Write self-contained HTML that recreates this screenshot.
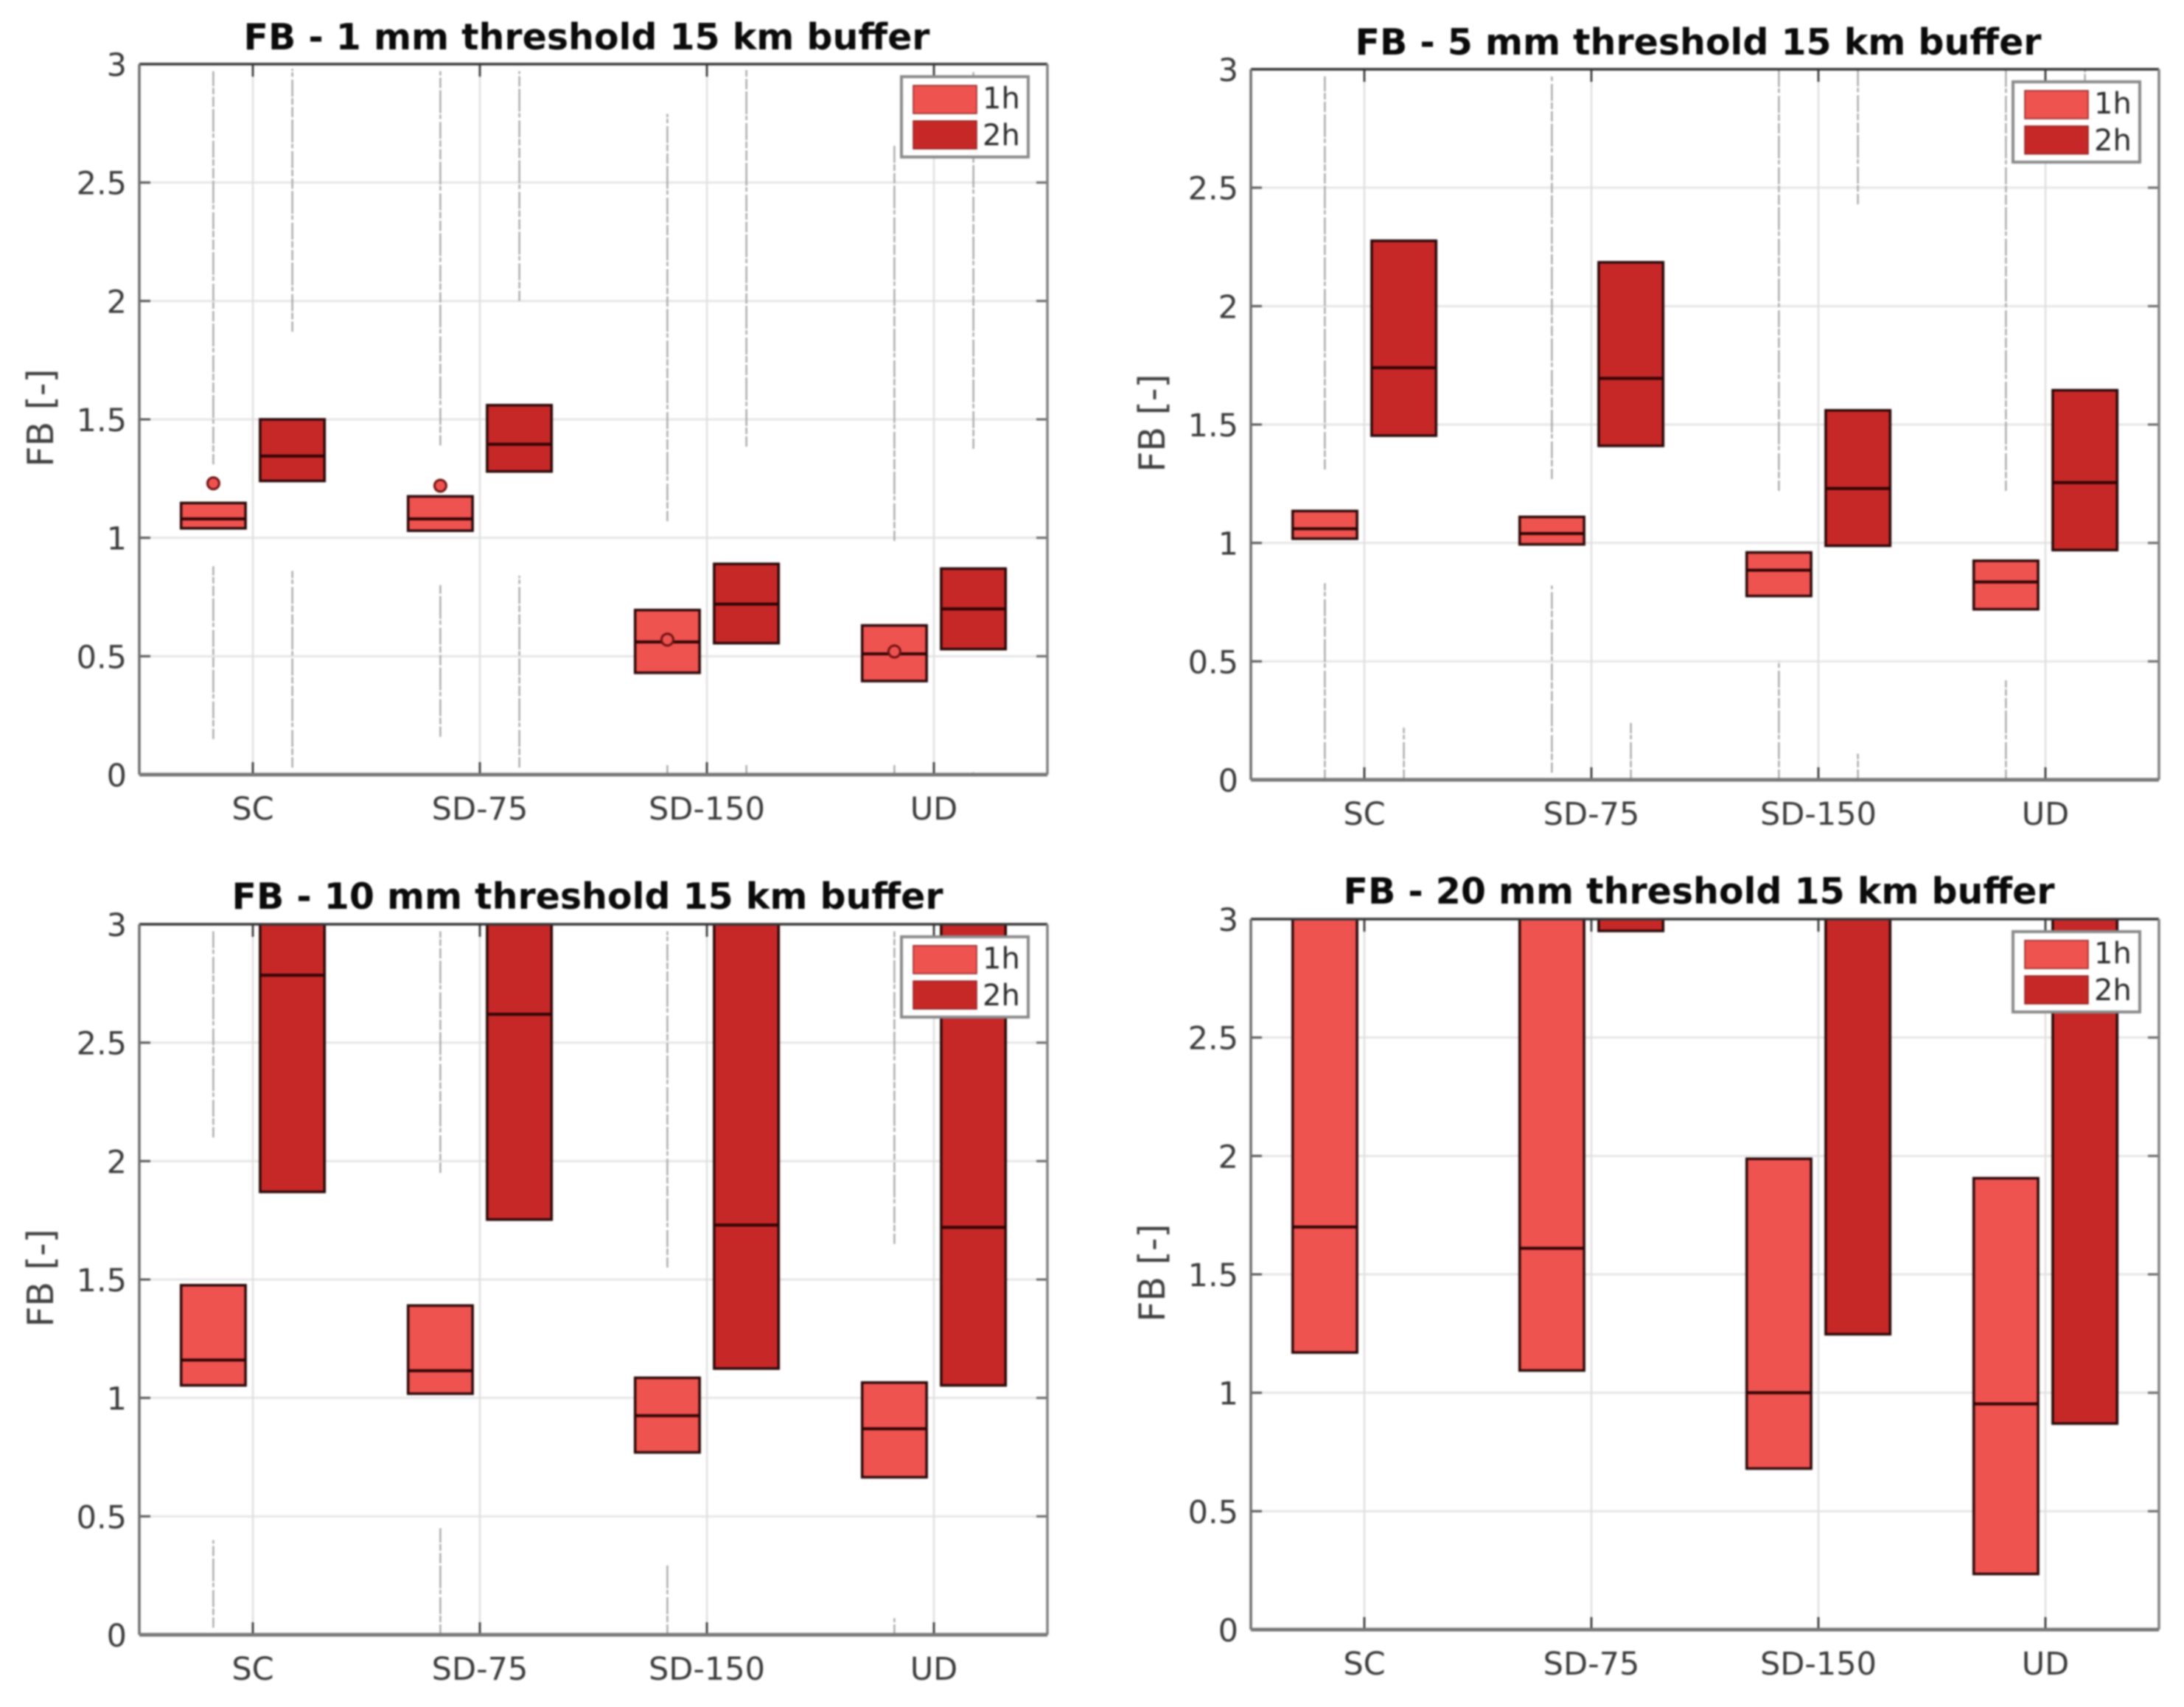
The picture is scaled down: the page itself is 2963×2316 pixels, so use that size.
<!DOCTYPE html>
<html lang="en">
<head>
<meta charset="utf-8">
<title>FB by threshold, 15 km buffer</title>
<style>
html,body{margin:0;padding:0;background:#fff;}
body{width:2963px;height:2316px;overflow:hidden;}
#figure{display:block;filter:blur(1px);}
text{font-family:"DejaVu Sans","Liberation Sans",sans-serif;}
</style>
</head>
<body>
<svg id="figure" xmlns="http://www.w3.org/2000/svg" width="2963" height="2316" viewBox="0 0 2963 2316"></svg>
<script>
// ---- Data (index order: panel, then category) ----
const categories = ['SC', 'SD-75', 'SD-150', 'UD'];
const yTicks = [0, 0.5, 1, 1.5, 2, 2.5, 3];
const yTickLabels = ['0', '0.5', '1', '1.5', '2', '2.5', '3'];
const seriesNames = ['1h', '2h'];
const panelTitles = [
  'FB - 1 mm threshold 15 km buffer',
  'FB - 5 mm threshold 15 km buffer',
  'FB - 10 mm threshold 15 km buffer',
  'FB - 20 mm threshold 15 km buffer'
];

const low1h = [
  [1.04, 1.03, 0.43, 0.395],
  [1.018, 0.994, 0.776, 0.72],
  [1.053, 1.018, 0.77, 0.665],
  [1.17, 1.094, 0.68, 0.235]
];
const median1h = [
  [1.08, 1.08, 0.56, 0.51],
  [1.06, 1.04, 0.885, 0.835],
  [1.16, 1.115, 0.925, 0.87],
  [1.70, 1.61, 1.0, 0.953]
];
const high1h = [
  [1.147, 1.175, 0.695, 0.63],
  [1.135, 1.11, 0.96, 0.925],
  [1.476, 1.39, 1.085, 1.065],
  [3.4, 3.4, 1.988, 1.906]
];
const low2h = [
  [1.24, 1.28, 0.555, 0.53],
  [1.453, 1.41, 0.988, 0.97],
  [1.87, 1.753, 1.124, 1.053],
  [3.3, 2.95, 1.247, 0.87]
];
const median2h = [
  [1.345, 1.395, 0.72, 0.70],
  [1.74, 1.695, 1.23, 1.255],
  [2.785, 2.62, 1.73, 1.72],
  [3.8, 3.5, 3.3, 3.2]
];
const high2h = [
  [1.5, 1.56, 0.89, 0.87],
  [2.276, 2.185, 1.56, 1.645],
  [3.5, 3.5, 3.5, 3.5],
  [4.2, 4.2, 4.2, 4.2]
];

// outlier strips: [from, to] in FB units, null when absent
const upperStrip1h = [
  [[1.31, 2.97], [1.39, 2.97], [1.07, 2.79], [0.987, 2.66]],
  [[1.31, 2.97], [1.27, 2.97], [1.22, 3], [1.22, 3]],
  [[2.1, 2.97], [1.95, 2.97], [1.55, 2.97], [1.65, 2.97]],
  [null, null, null, null]
];
const lowerStrip1h = [
  [[0.15, 0.88], [0.16, 0.8], [0, 0.04], [0, 0.04]],
  [[0, 0.83], [0.03, 0.82], [0, 0.5], [0, 0.42]],
  [[0.03, 0.4], [0, 0.45], [0, 0.3], [0, 0.07]],
  [null, null, null, null]
];
const upperStrip2h = [
  [[1.87, 2.98], [2.0, 2.97], [1.385, 2.98], [1.376, 2.97]],
  [null, null, [2.43, 3], [2.9, 3]],
  [null, null, null, null],
  [null, null, null, null]
];
const lowerStrip2h = [
  [[0.03, 0.86], [0.03, 0.84], [0, 0.04], [0, 0.01]],
  [[0, 0.22], [0, 0.24], [0, 0.11], null],
  [null, null, null, null],
  [null, null, null, null]
];
const outlier1h = [
  [1.23, 1.22, 0.57, 0.52],
  [null, null, null, null],
  [null, null, null, null],
  [null, null, null, null]
];

// ---- Layout ----
const panelLeft = [189, 1697, 189, 1697];
const panelTop = [87, 94, 1254, 1247];
const panelW = 1232;
const panelH = 964;
const titleCenterShift = [-9, -9, -8, -8];
const titleBaselineGap = [20, 20, 21, 21];
const boxOffset = 0.174;
const boxWidth = 0.284;

const svg = document.getElementById('figure');
const NS = 'http://www.w3.org/2000/svg';
function make(parent, tag, attrs, txt) {
  const e = document.createElementNS(NS, tag);
  for (const k in attrs) e.setAttribute(k, attrs[k]);
  if (txt !== undefined) e.textContent = txt;
  parent.appendChild(e);
  return e;
}

const colors = { '1h': '#ef5350', '2h': '#c62828' };
const edge = '#2a0808';

function drawPanel(p) {
  const L = panelLeft[p], T = panelTop[p];
  const xCat = function (i) { return L + (i + 0.5) / categories.length * panelW; };
  const yVal = function (v) { return T + panelH - v / 3 * panelH; };
  const catW = panelW / categories.length;

  const g = make(svg, 'g', {});
  
  

  const clip = make(g, 'clipPath', { id: 'clip' + p });
  make(clip, 'rect', { x: L, y: T, width: panelW, height: panelH });

  const bg = make(g, 'rect', { x: L, y: T, width: panelW, height: panelH, fill: '#fff' });
  
  

  // grid
  yTicks.forEach(function (v) {
    if (v === 0 || v === 3) return;
    const l = make(g, 'line', { x1: L, x2: L + panelW, y1: yVal(v), y2: yVal(v), stroke: '#e6e6e6', 'stroke-width': 3 });
    
    
  });
  categories.forEach(function (c, i) {
    const l = make(g, 'line', { x1: xCat(i), x2: xCat(i), y1: T, y2: T + panelH, stroke: '#e0e0e0', 'stroke-width': 2.5 });
    
    
  });

  const plot = make(g, 'g', { 'clip-path': 'url(#clip' + p + ')' });
  
  

  function strip(range, x, name) {
    if (!range) return;
    const s = make(plot, 'line', {
      x1: x, x2: x, y1: yVal(range[0]), y2: yVal(range[1]),
      stroke: '#ababab', 'stroke-width': 2.5, 'stroke-dasharray': '14 3 9 2 23 4 6 2 31 3'
    });
    
    
  }
  function box(lo, med, hi, x, color, name) {
    const b = make(plot, 'rect', {
      x: x - boxWidth * catW / 2, y: yVal(hi), width: boxWidth * catW, height: yVal(lo) - yVal(hi),
      fill: color, stroke: edge, 'stroke-width': 3.5
    });
    
    
    const m = make(plot, 'line', {
      x1: x - boxWidth * catW / 2, x2: x + boxWidth * catW / 2, y1: yVal(med), y2: yVal(med),
      stroke: '#2e0303', 'stroke-width': 4
    });
    
    
  }

  categories.forEach(function (c, i) {
    const x1 = xCat(i) - boxOffset * catW;
    const x2 = xCat(i) + boxOffset * catW;
    strip(upperStrip1h[p][i], x1, 'outliers-upper-1h');
    strip(lowerStrip1h[p][i], x1, 'outliers-lower-1h');
    strip(upperStrip2h[p][i], x2, 'outliers-upper-2h');
    strip(lowerStrip2h[p][i], x2, 'outliers-lower-2h');
    box(low1h[p][i], median1h[p][i], high1h[p][i], x1, colors['1h'], 'box-1h-' + c.toLowerCase());
    box(low2h[p][i], median2h[p][i], high2h[p][i], x2, colors['2h'], 'box-2h-' + c.toLowerCase());
    if (outlier1h[p][i] !== null) {
      const d = make(plot, 'circle', { cx: x1, cy: yVal(outlier1h[p][i]), r: 8, fill: colors['1h'], stroke: '#6e1212', 'stroke-width': 3 });
      
      
    }
  });

  // ticks
  yTicks.forEach(function (v, i) {
    if (v !== 0 && v !== 3) {
      const a = make(g, 'line', { x1: L, x2: L + 15, y1: yVal(v), y2: yVal(v), stroke: '#555', 'stroke-width': 3 });
      
      
      const b = make(g, 'line', { x1: L + panelW - 15, x2: L + panelW, y1: yVal(v), y2: yVal(v), stroke: '#666', 'stroke-width': 3 });
      
      
    }
    const t = make(g, 'text', { x: L - 17, y: yVal(v) + 16, 'text-anchor': 'end', 'font-size': 43, fill: '#3a3a3a' }, yTickLabels[i]);
    
    
  });
  categories.forEach(function (c, i) {
    const a = make(g, 'line', { x1: xCat(i), x2: xCat(i), y1: T, y2: T + 17, stroke: '#444', 'stroke-width': 3 });
    
    
    const b = make(g, 'line', { x1: xCat(i), x2: xCat(i), y1: T + panelH - 17, y2: T + panelH, stroke: '#444', 'stroke-width': 3 });
    
    
    const t = make(g, 'text', { x: xCat(i), y: T + panelH + 61, 'text-anchor': 'middle', 'font-size': 43, fill: '#3a3a3a' }, c);
    
    
  });

  // axes frame
  const top = make(g, 'line', { x1: L, x2: L + panelW, y1: T, y2: T, stroke: '#333', 'stroke-width': 3.5 });
  
  
  const right = make(g, 'line', { x1: L + panelW, x2: L + panelW, y1: T, y2: T + panelH, stroke: '#808080', 'stroke-width': 3.5 });
  
  
  const left = make(g, 'line', { x1: L, x2: L, y1: T, y2: T + panelH, stroke: '#6e6e6e', 'stroke-width': 3.5 });
  
  
  const bottom = make(g, 'line', { x1: L, x2: L + panelW, y1: T + panelH, y2: T + panelH, stroke: '#777', 'stroke-width': 5 });
  
  

  // title and y label
  const title = make(g, 'text', {
    x: L + panelW / 2 + titleCenterShift[p], y: T - titleBaselineGap[p],
    'text-anchor': 'middle', 'font-size': 49, 'font-weight': 'bold', fill: '#0a0a0a'
  }, panelTitles[p]);
  
  
  const yl = make(g, 'text', {
    transform: 'translate(' + (L - 117) + ',' + (T + panelH / 2 - 2) + ') rotate(-90)',
    'text-anchor': 'middle', 'font-size': 49, fill: '#404040'
  }, 'FB [-]');
  
  

  // legend
  const lg = make(g, 'g', {});
  
  
  const lx = L + panelW - 198, ly = T + 17;
  make(lg, 'rect', { x: lx, y: ly, width: 172, height: 109, fill: '#fff', stroke: '#8a8a8a', 'stroke-width': 4 });
  seriesNames.forEach(function (n, i) {
    const sw = make(lg, 'rect', {
      x: lx + 16, y: ly + 12 + i * 48, width: 86, height: 38,
      fill: colors[n], stroke: '#8c2020', 'stroke-width': 1.5
    });
    
    
    const lt = make(lg, 'text', { x: lx + 110, y: ly + 43 + i * 50, 'font-size': 40, fill: '#2a2a2a' }, n);
    
    
  });
}

panelTitles.forEach(function (t, p) { drawPanel(p); });
</script>
</body>
</html>
